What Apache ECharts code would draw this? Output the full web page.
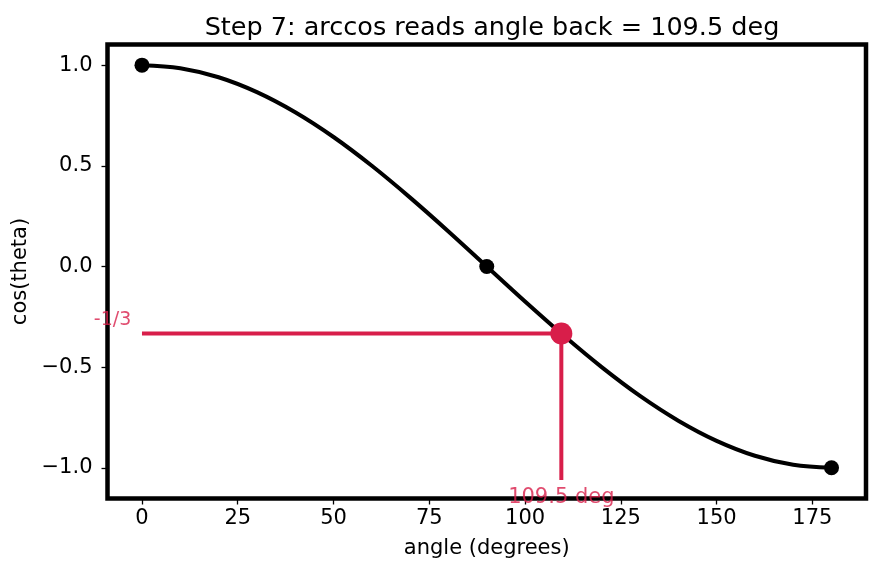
<!DOCTYPE html>
<html>
<head>
<meta charset="utf-8">
<script src="https://cdn.jsdelivr.net/npm/echarts@6/dist/echarts.min.js"></script>
<style>
  html, body { margin: 0; padding: 0; background: #fff; }
  #chart { width: 880px; height: 573px; }
</style>
</head>
<body>
<div id="chart"></div>
<script>
// cos curve every 10 degrees
var curveX = [0, 10, 20, 30, 40, 50, 60, 70, 80, 90, 100, 110, 120, 130, 140, 150, 160, 170, 180];
var curveY = [1.0, 0.985, 0.94, 0.866, 0.766, 0.643, 0.5, 0.342, 0.174, 0.0,
              -0.174, -0.342, -0.5, -0.643, -0.766, -0.866, -0.94, -0.985, -1.0];

// black marker points
var dotX = [0, 90, 180];
var dotY = [1, 0, -1];

// read-back point and its guide lines
var readAngle = 109.47;
var readCos = -0.3333;
var hLineX = [0, readAngle];
var hLineY = [readCos, readCos];
var vLineX = [readAngle, readAngle];
var vLineY = [-1.06, readCos];

// text notes
var noteText = ['-1/3', '109.5 deg'];
var noteX = [-2.8, 109.47];
var noteY = [-0.267, -1.148];

var xTicks = [0, 25, 50, 75, 100, 125, 150, 175];
var yTicks = [-1.0, -0.5, 0.0, 0.5, 1.0];

var red = '#d81e4a';
var font = 'DejaVu Sans';

function zip(a, b) {
    return a.map(function (v, i) { return [v, b[i]]; });
}

var myChart = echarts.init(document.getElementById('chart'));
myChart.setOption({
    animation: false,
    textStyle: { fontFamily: font },
    title: {
        text: 'Step 7: arccos reads angle back = 109.5 deg',
        left: 487,
        top: 10,
        textAlign: 'center',
        textStyle: { fontFamily: font, fontSize: 25.5, fontWeight: 'normal', color: '#000' }
    },
    grid: {
        left: 107.5, right: 14, top: 44.5, bottom: 74.5,
        show: true, borderColor: '#000', borderWidth: 4.5,
        outerBoundsMode: 'none'
    },
    xAxis: {
        type: 'value', min: -9, max: 189,
        name: 'angle (degrees)', nameLocation: 'middle', nameGap: 40,
        nameTextStyle: { fontFamily: font, fontSize: 21, color: '#000' },
        axisLine: { show: false, onZero: false },
        splitLine: { show: false },
        axisTick: { show: true, customValues: xTicks, length: 6, lineStyle: { color: '#000', width: 1.3 } },
        axisLabel: { customValues: xTicks, fontSize: 21, color: '#000', margin: 10 }
    },
    yAxis: {
        type: 'value', min: -1.1525, max: 1.1025,
        name: 'cos(theta)', nameLocation: 'middle', nameGap: 76,
        nameTextStyle: { fontFamily: font, fontSize: 21, color: '#000' },
        axisLine: { show: false, onZero: false },
        splitLine: { show: false },
        axisTick: { show: true, customValues: yTicks, length: 6, lineStyle: { color: '#000', width: 1.3 } },
        axisLabel: {
            customValues: yTicks, fontSize: 21, color: '#000', margin: 15,
            formatter: function (v) { return (v < 0 ? '\u2212' : '') + Math.abs(v).toFixed(1); }
        }
    },
    series: [
        {
            type: 'line', data: zip(curveX, curveY), smooth: 0.35,
            showSymbol: false, lineStyle: { color: '#000', width: 4 }, z: 2
        },
        {
            type: 'scatter', data: zip(dotX, dotY), symbolSize: 15,
            itemStyle: { color: '#000', opacity: 1 }, z: 3
        },
        {
            type: 'line', data: zip(hLineX, hLineY), showSymbol: false,
            lineStyle: { color: red, width: 4 }, z: 4
        },
        {
            type: 'line', data: zip(vLineX, vLineY), showSymbol: false,
            lineStyle: { color: red, width: 4 }, z: 4
        },
        {
            type: 'scatter', data: [[readAngle, readCos]], symbolSize: 22,
            itemStyle: { color: red, opacity: 1 }, z: 5
        },
        {
            type: 'scatter', symbolSize: 0, z: 6,
            data: noteX.map(function (x, i) { return { value: [x, noteY[i]], name: noteText[i] }; }),
            label: {
                show: true, position: 'inside', color: red, fontFamily: font,
                formatter: function (p) { return p.name; }
            },
            labelLayout: function (p) {
                return p.dataIndex === 0 ? { align: 'right', fontSize: 19 } : { align: 'center', fontSize: 21 };
            }
        }
    ]
});
</script>
</body>
</html>
